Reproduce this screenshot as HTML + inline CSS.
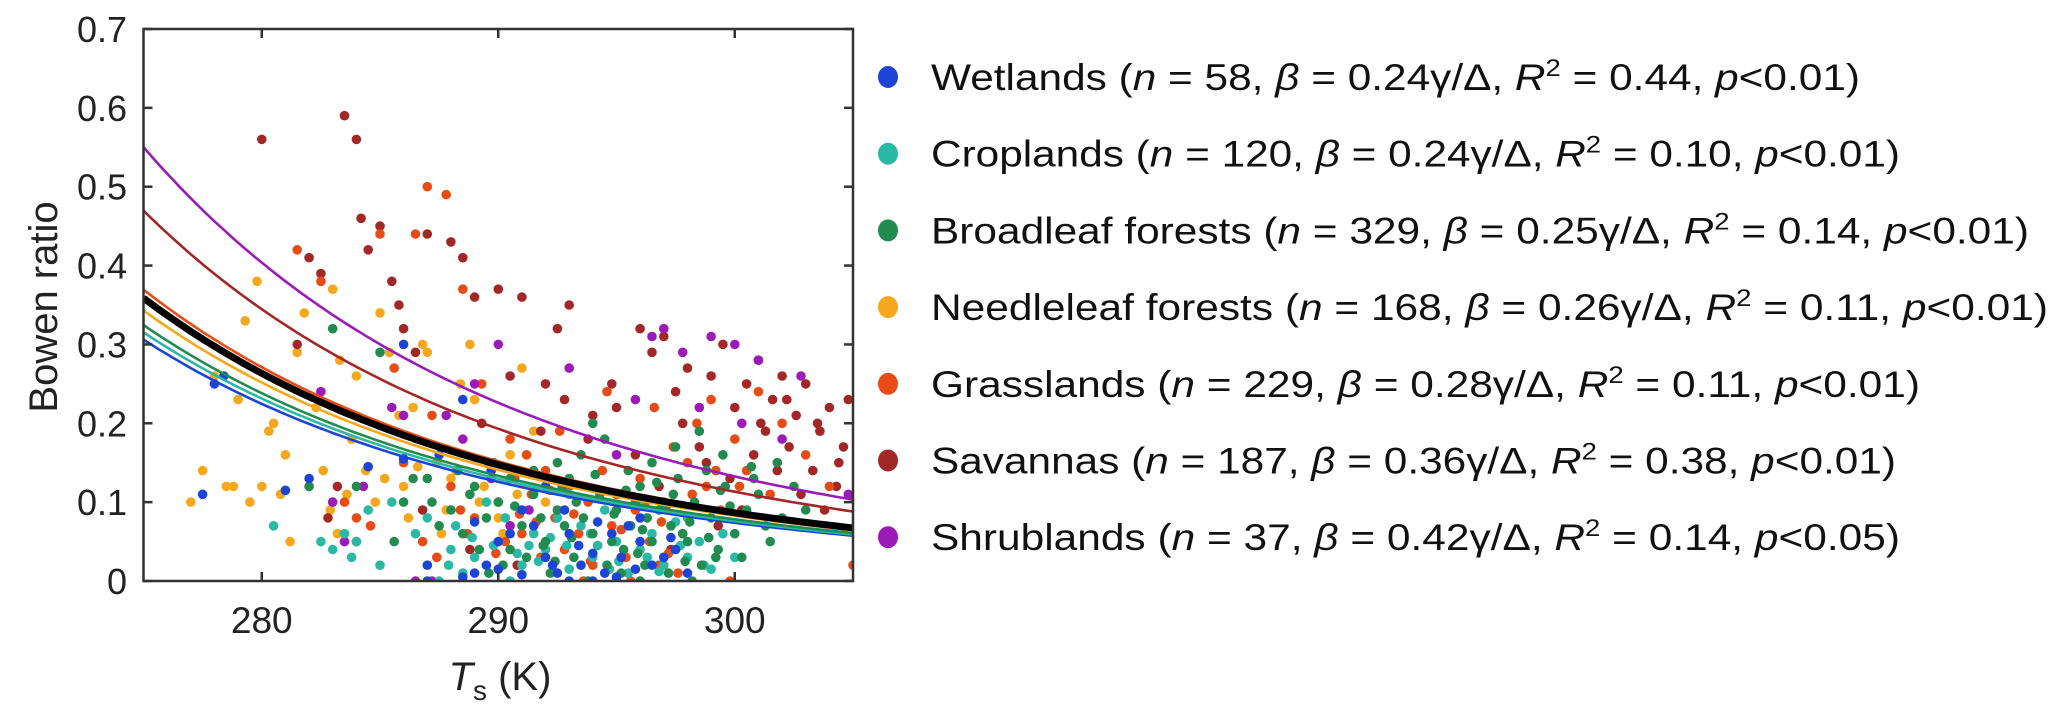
<!DOCTYPE html>
<html><head><meta charset="utf-8"><style>
html,body{margin:0;padding:0;background:#fff;}
svg{display:block;font-family:"Liberation Sans",Arial,sans-serif;}
</style></head><body>
<svg id="chart" width="2067" height="724" viewBox="0 0 2067 724" xmlns="http://www.w3.org/2000/svg">
<g id="points"></g>
<g id="curves"></g>
<g id="axes"></g>
<g id="legend"></g>
</svg>
<script>
const categories=["Wetlands","Croplands","Broadleaf forests","Needleleaf forests","Grasslands","Savannas","Shrublands"];
const colors=["#1c45d6","#2ab9a5","#228b4f","#f5a81b","#e84c16","#a32727","#9b1ab8"];
const betaCoefs=[0.232,0.239,0.246,0.26,0.28,0.356,0.417];
const overallCoef=0.272;
const legendN=["58","120","329","168","229","187","37"];
const legendBeta=["0.24","0.24","0.25","0.26","0.28","0.36","0.42"];
const legendR2=["0.44","0.10","0.14","0.11","0.11","0.38","0.14"];
const legendP=["0.01","0.01","0.01","0.01","0.01","0.01","0.05"];
const xTicks=[280,290,300];
const yTicks=[0,0.1,0.2,0.3,0.4,0.5,0.6,0.7];
const yTickLabels=["0","0.1","0.2","0.3","0.4","0.5","0.6","0.7"];
const wetlandPts=[[278,0.25],[278.4,0.26],[277.5,0.11],[281,0.115],[282,0.13],[286,0.3],[286,0.155],[287.5,0.16],[287,0.0],[288.5,0.005],[289,0.01],[289.5,0.02],[290,0.015],[290.5,0.06],[291,0.09],[291.5,0.07],[292,0.03],[292.5,0.01],[293,0.0],[293.5,0.02],[294,0.035],[294.5,0.01],[295,0.005],[295.5,0.07],[296,0.05],[296.5,0.02],[297,0.03],[297.5,0.04],[298,0.01],[293,0.06],[289,0.075],[288.5,0.23],[292,0.12],[291,0.008],[290,0.05],[294,0.0],[296,0.08],[284.5,0.145],[287,0.02],[292.8,0.09],[295.2,0.03],[294.8,0.06],[293.4,0.045],[295.8,0.015],[294.2,0.075],[292.3,0.02],[289.7,0.14],[297.3,0.055]];
const cropPts=[[280.5,0.07],[283,0.04],[283.5,0.06],[284,0.05],[285,0.02],[283.8,0.03],[287,0.08],[288,0.04],[289,0.03],[290,0.05],[291,0.02],[291.5,0.06],[292,0.04],[293,0.015],[293.5,0.07],[294,0.03],[295,0.05],[295.5,0.01],[296,0.04],[296.5,0.06],[297,0.02],[298,0.03],[298.5,0.05],[299,0.015],[300,0.03],[288.5,0.01],[290.5,0.0],[292.5,0.08],[294.5,0.09],[289.5,0.1],[286.5,0.06],[287.5,0.0],[295,0.0],[297.5,0.075],[285.5,0.1],[291,0.09],[293,0.11],[296,0.1],[298,0.08],[282.5,0.05],[284.5,0.09],[290.8,0.035],[292.2,0.055],[294.2,0.045],[296.8,0.012],[299.5,0.06],[288.2,0.07],[289.8,0.045],[290.3,0.08],[291.7,0.025],[292.9,0.045],[293.9,0.06],[295.1,0.025],[296.3,0.03],[297.7,0.045],[298.7,0.02],[288.9,0.055],[287.9,0.02],[294.7,0.015],[291.3,0.045]];
const broadPts=[[283,0.32],[285,0.29],[284,0.12],[282,0.12],[286,0.1],[287,0.13],[288,0.09],[288.5,0.06],[289,0.12],[289.5,0.08],[290,0.1],[290.5,0.04],[291,0.07],[291.5,0.11],[292,0.05],[292.5,0.09],[293,0.13],[293.2,0.03],[293.6,0.08],[294,0.06],[294.3,0.11],[294.6,0.02],[295,0.09],[295.3,0.04],[295.6,0.07],[296,0.12],[296.2,0.02],[296.5,0.05],[296.8,0.09],[297,0.03],[297.3,0.07],[297.6,0.13],[298,0.05],[298.3,0.1],[298.6,0.02],[299,0.08],[299.3,0.04],[299.6,0.12],[300,0.06],[300.5,0.09],[301,0.11],[301.5,0.05],[302,0.08],[299.5,0.16],[298.5,0.19],[297.5,0.17],[296.5,0.15],[295.5,0.14],[294.5,0.18],[293.5,0.16],[292.5,0.15],[291.5,0.14],[290.5,0.13],[290.2,0.02],[291.2,0.03],[292.2,0.01],[293.8,0.0],[295.2,0.01],[296,0.0],[297.2,0.01],[298.2,0.0],[299.2,0.03],[289.2,0.04],[288.8,0.11],[287.5,0.07],[292.8,0.07],[294.8,0.05],[296.3,0.08],[297.8,0.06],[295.8,0.1],[293.3,0.1],[291.8,0.08],[300.8,0.13],[301.8,0.15],[298.8,0.14],[294,0.2],[289.8,0.15],[290.7,0.095],[291.9,0.045],[292.7,0.12],[293.1,0.055],[294.1,0.135],[294.9,0.085],[295.4,0.115],[296.1,0.065],[296.7,0.125],[297.1,0.095],[297.9,0.025],[298.1,0.075],[298.9,0.055],[299.8,0.095],[300.3,0.03],[300.7,0.145],[301.3,0.07],[288.3,0.14],[287.2,0.1],[286.4,0.13],[285.6,0.05],[289.6,0.01],[292.4,0.025],[295.9,0.035],[297.4,0.11],[299.4,0.115],[302.5,0.12],[303,0.09]];
const needlePts=[[277,0.1],[277.5,0.14],[278,0.26],[278.5,0.12],[279,0.23],[279.3,0.33],[279.8,0.38],[280,0.12],[280.3,0.19],[280.5,0.2],[281,0.16],[281.5,0.29],[281.8,0.34],[282,0.12],[282.3,0.22],[282.6,0.14],[283,0.37],[283.3,0.28],[283.6,0.11],[284,0.26],[284.4,0.14],[285,0.34],[285.4,0.29],[285.8,0.21],[286,0.12],[286.4,0.22],[286.8,0.3],[287,0.29],[287.4,0.15],[287.8,0.09],[288,0.13],[288.4,0.25],[288.8,0.3],[289,0.23],[289.4,0.12],[290,0.08],[290.5,0.16],[291,0.27],[291.5,0.19],[292,0.1],[286.2,0.08],[284.8,0.1],[283.2,0.06],[279.5,0.1],[281.2,0.05],[283.8,0.18],[290.8,0.11],[288.2,0.14],[278.8,0.12],[280.8,0.11],[282.9,0.09],[285.2,0.13],[286.6,0.145],[287.6,0.06],[289.2,0.1],[290.2,0.06]];
const grassPts=[[281.5,0.42],[282.5,0.38],[283.5,0.1],[284,0.08],[285,0.44],[286,0.15],[286.5,0.44],[287,0.5],[287.8,0.49],[288,0.12],[288.5,0.37],[289,0.08],[289.3,0.25],[290,0.1],[290.3,0.05],[290.7,0.13],[291,0.06],[291.4,0.11],[291.8,0.03],[292,0.14],[292.4,0.08],[292.8,0.04],[293,0.12],[293.4,0.06],[293.8,0.1],[294,0.02],[294.4,0.14],[294.8,0.07],[295,0.11],[295.4,0.03],[295.8,0.09],[296,0.13],[296.4,0.05],[296.8,0.02],[297,0.1],[297.4,0.17],[297.8,0.06],[298,0.15],[298.4,0.2],[298.8,0.12],[299,0.23],[299.4,0.09],[300,0.18],[300.5,0.14],[301,0.24],[301.5,0.11],[302,0.2],[303,0.16],[304,0.12],[305,0.02],[289.6,0.15],[288.7,0.06],[292.6,0.19],[294.6,0.24],[296.6,0.22],[287.2,0.21],[285.6,0.27],[290.5,0.18],[293.6,0.0],[295.6,0.0],[297.6,0.01],[299.8,0.0],[288.4,0.09],[289.9,0.035],[290.9,0.085],[291.6,0.075],[292.2,0.115],[293.2,0.085],[294.2,0.045],[295.2,0.065],[296.2,0.095],[297.2,0.035],[298.2,0.11],[299.2,0.14],[300.2,0.12],[287.4,0.03],[286.8,0.05],[284.6,0.07],[291.2,0.16],[293.9,0.025],[296.9,0.075]];
const savPts=[[280,0.56],[281.5,0.3],[282,0.41],[282.5,0.39],[283.5,0.59],[284,0.56],[284.2,0.46],[284.5,0.42],[285,0.45],[285.5,0.38],[285.8,0.35],[286,0.32],[286.5,0.29],[287,0.44],[288,0.43],[288.5,0.41],[289,0.36],[289.3,0.2],[290,0.37],[290.5,0.26],[291,0.36],[292,0.25],[292.5,0.32],[293,0.35],[294,0.21],[295,0.22],[296,0.32],[296.5,0.29],[297,0.31],[297.5,0.24],[298,0.27],[298.5,0.17],[299,0.26],[299.5,0.3],[300,0.22],[300.5,0.25],[301,0.28],[301.3,0.19],[301.6,0.23],[302,0.26],[302.3,0.17],[302.6,0.21],[303,0.25],[303.3,0.14],[303.6,0.19],[304,0.22],[304.3,0.12],[304.6,0.17],[303.8,0.09],[302.8,0.11],[301.8,0.14],[300.8,0.16],[299.8,0.13],[298.8,0.15],[297.8,0.2],[296.8,0.12],[295.8,0.16],[294.8,0.25],[293.8,0.18],[292.8,0.23],[291.8,0.19],[283.2,0.12],[282.8,0.08],[286.8,0.09],[288.8,0.04],[290.8,0.02],[297.3,0.04],[299.3,0.07],[300.3,0.09],[304.8,0.23],[302.2,0.23],[303.5,0.2],[301.1,0.2],[304.4,0.15]];
const shrubPts=[[282.5,0.24],[283,0.1],[283.5,0.05],[284,0.05],[285.5,0.22],[286,0.21],[286.5,0.0],[287.2,0.0],[287.8,0.21],[288.5,0.18],[289,0.25],[290,0.3],[290.5,0.07],[293,0.27],[295,0.16],[295.8,0.23],[296.5,0.31],[297,0.32],[297.8,0.29],[298.5,0.22],[299,0.31],[300,0.3],[300.3,0.2],[301,0.28],[302,0.18],[302.8,0.26],[304.8,0.11],[291.3,0.09],[289.7,0.13],[284.3,0.12]];
const pointSets=[wetlandPts,cropPts,broadPts,needlePts,grassPts,savPts,shrubPts];

const NS="http://www.w3.org/2000/svg";
const X0=143.5,X1=853,Y0=581,Y1=29,TMIN=275,TMAX=305,BMIN=0,BMAX=0.7;
function xs(t){return X0+(t-TMIN)/(TMAX-TMIN)*(X1-X0);}
function ys(b){return Y0-(b-BMIN)/(BMAX-BMIN)*(Y0-Y1);}
function gammaOverDelta(T){const c=T-273.15;const es=0.6108*Math.exp(17.27*c/(c+237.3));const d=4098*es/Math.pow(c+237.3,2);return 0.066/d;}
function mk(tag,attrs,parent){const e=document.createElementNS(NS,tag);for(const k in attrs)e.setAttribute(k,attrs[k]);parent.appendChild(e);return e;}

const defs=mk('defs',{},document.getElementById('chart'));
const cp=mk('clipPath',{id:'plotclip'},defs);
mk('rect',{x:X0,y:Y1,width:X1-X0,height:Y0-Y1},cp);

const gp=document.getElementById('points');
gp.setAttribute('clip-path','url(#plotclip)');
const order=[3,5,4,6,1,2,0];
order.forEach(ci=>{
  pointSets[ci].forEach(p=>{
    const c=mk('circle',{cx:xs(p[0]).toFixed(1),cy:ys(p[1]).toFixed(1),r:4.8,fill:colors[ci]},gp);
    
    
  });
});

const gc=document.getElementById('curves');
gc.setAttribute('clip-path','url(#plotclip)');
function curvePath(coef){let d='';for(let t=TMIN;t<=TMAX+0.001;t+=0.25){d+=(d?'L':'M')+xs(t).toFixed(1)+','+ys(coef*gammaOverDelta(t)).toFixed(1);}return d;}
betaCoefs.forEach((b,i)=>{
  const p=mk('path',{d:curvePath(b),fill:'none',stroke:colors[i],'stroke-width':2.6},gc);
  
  
});
const pb=mk('path',{d:curvePath(overallCoef),fill:'none',stroke:'#000','stroke-width':7},gc);



const ga=document.getElementById('axes');
const frame=mk('rect',{x:X0,y:Y1,width:X1-X0,height:Y0-Y1,fill:'none',stroke:'#333','stroke-width':2.5},ga);


xTicks.forEach(t=>{
  const x=xs(t);
  mk('line',{x1:x,y1:Y0,x2:x,y2:Y0-9,stroke:'#333','stroke-width':2.5},ga);
  mk('line',{x1:x,y1:Y1,x2:x,y2:Y1+9,stroke:'#333','stroke-width':2.5},ga);
  const tx=mk('text',{x:x,y:633,'font-size':37,'text-anchor':'middle',fill:'#222'},ga);
  tx.textContent=String(t);
  
  
});
yTicks.forEach((v,i)=>{
  const y=ys(v);
  mk('line',{x1:X0,y1:y,x2:X0+9,y2:y,stroke:'#333','stroke-width':2.5},ga);
  mk('line',{x1:X1,y1:y,x2:X1-9,y2:y,stroke:'#333','stroke-width':2.5},ga);
  const tx=mk('text',{x:127,y:y+13,'font-size':36,'text-anchor':'end',fill:'#222'},ga);
  tx.textContent=yTickLabels[i];
  
  
});
const yt=mk('text',{x:0,y:0,'font-size':40,'text-anchor':'middle',fill:'#222',transform:'translate(57,307) rotate(-90)'},ga);
yt.textContent='Bowen ratio';


const xt=mk('text',{x:500,y:690,'font-size':40,'text-anchor':'middle',fill:'#222'},ga);
xt.innerHTML='<tspan font-style="italic">T</tspan><tspan font-size="28" dy="10">s</tspan><tspan dy="-10"> (K)</tspan>';



const gl=document.getElementById('legend');
const legendEnds=[1860,1900,2029,2048,1920,1896,1900];
categories.forEach((c,i)=>{
  const y=77+76.7*i;
  const e=mk('g',{},gl);
  
  
  mk('ellipse',{cx:888,cy:y,rx:10,ry:11,fill:colors[i]},e);
  const t=mk('text',{x:931,y:y+13,'font-size':37,fill:'#111',textLength:legendEnds[i]-931,lengthAdjust:'spacingAndGlyphs'},e);
  t.innerHTML=c+' (<tspan font-style="italic">n</tspan> = '+legendN[i]+', <tspan font-style="italic">β</tspan> = '+legendBeta[i]+'γ/Δ, <tspan font-style="italic">R</tspan><tspan font-size="24" dy="-14">2</tspan><tspan dy="14"> = '+legendR2[i]+', </tspan><tspan font-style="italic">p</tspan>&lt;'+legendP[i]+')';
});
</script>
</body></html>
